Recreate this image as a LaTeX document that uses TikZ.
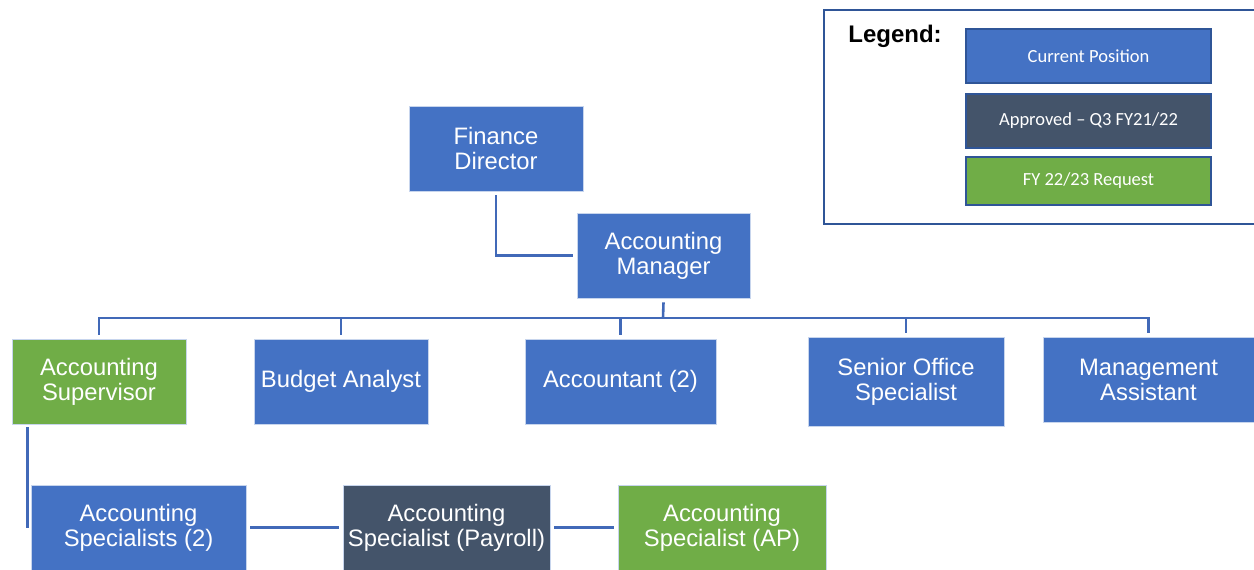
\documentclass[tikz,border=0pt]{standalone}
\usepackage{fontspec}
\setmainfont{Liberation Sans}
\newfontfamily\legendfont{Carlito}
\usetikzlibrary{positioning}

\definecolor{posblue}{HTML}{4472C4}
\definecolor{posslate}{HTML}{44546A}
\definecolor{posgreen}{HTML}{70AD47}
\definecolor{linkblue}{HTML}{4169B8}
\definecolor{frameblue}{HTML}{2F5597}

\tikzset{
  post/.style={draw=white!70!posblue, line width=0.8pt, text=white, align=center,
    font=\fontsize{23.8}{25}\selectfont, inner sep=0pt},
  current/.style={post, fill=posblue},
  approved/.style={post, fill=posslate},
  request/.style={post, fill=posgreen},
  conn/.style={draw=linkblue, line width=2.6pt},
  keybox/.style={draw=frameblue, line width=2pt, text=white, inner sep=0pt,
    minimum width=245pt, font=\legendfont\fontsize{18.5}{20}\selectfont}
}

\begin{document}
\begin{tikzpicture}[x=1pt,y=-1pt]
\useasboundingbox (0,0) rectangle (1254,570);
\clip (0,0) rectangle (1254,570);

% legend
\draw[draw=frameblue, line width=2pt] (824,10) rectangle (1264,224);
\node[font=\bfseries\fontsize{24}{26}\selectfont] (legend) at (895,36) {Legend:};
\node[keybox, fill=posblue, minimum height=54pt] (keycur) at (1088.5,56) {Current Position};
\node[keybox, fill=posslate, minimum height=54pt] (keyappr) at (1088.5,121) {Approved \textendash{} Q3 FY21/22};
\node[keybox, fill=posgreen, minimum height=48pt] (keyreq) at (1088.5,181) {FY 22/23 Request};

% top of the tree
\node[current, minimum width=174pt, minimum height=85pt] (director) at (496,148.5) {Finance\\Director};
\node[current, minimum width=173pt, minimum height=85pt] (manager) at (663.5,255.5) {Accounting\\Manager};

% second row
\node[request, minimum width=174pt, minimum height=85pt] (supervisor) at (99,381.5) {Accounting\\Supervisor};
\node[current, minimum width=174pt, minimum height=85pt] (budget) at (341,381.5) {Budget Analyst};
\node[current, minimum width=191pt, minimum height=85pt] (accountant) at (620.5,381.5) {Accountant (2)};
\node[current, minimum width=196pt, minimum height=89pt] (senior) at (906,381.5) {Senior Office\\Specialist};
\node[current, minimum width=211pt, minimum height=85pt] (mgmt) at (1148.5,379.5) {Management\\Assistant};

% third row
\node[current, minimum width=215pt, minimum height=85pt] (specs) at (138.5,527.5) {Accounting\\Specialists (2)};
\node[approved, minimum width=207pt, minimum height=85pt] (payroll) at (446.5,527.5) {Accounting\\Specialist (Payroll)};
\node[request, minimum width=208pt, minimum height=85pt] (ap) at (722,527.5) {Accounting\\Specialist (AP)};

% connectors
\draw[conn] ([yshift=-4pt]director.south) |- ([xshift=-4pt]manager.west);
\coordinate (bus) at (663,318);
\draw[conn] ([yshift=-4pt]manager.south) -- (bus);
\draw[conn] ([yshift=4pt]supervisor.north) |- (bus -| mgmt.north) -- ([yshift=4pt]mgmt.north);
\foreach \n in {budget,accountant,senior}
  \draw[conn] ([yshift=4pt]\n.north) -- (bus -| \n.north);

\coordinate (supdrop) at ([xshift=16pt]supervisor.south west);
\draw[conn] ([yshift=-3pt]supdrop) -- (supdrop |- specs.west);
\draw[conn] ([xshift=4pt]specs.east) -- ([xshift=-4pt]payroll.west);
\draw[conn] ([xshift=4pt]payroll.east) -- ([xshift=-4pt]ap.west);
\end{tikzpicture}
\end{document}
